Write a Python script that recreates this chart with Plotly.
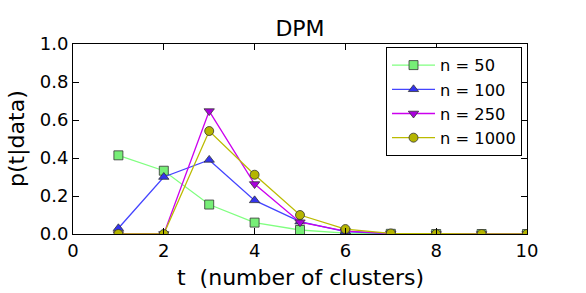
import plotly.graph_objects as go

t = [1, 2, 3, 4, 5, 6, 7, 8, 9, 10]
p_50 = [0.414, 0.333, 0.155, 0.060, 0.021, 0.005, 0.001, 0.0, 0.0, 0.0]
p_100 = [0.030, 0.300, 0.390, 0.177, 0.065, 0.012, 0.002, 0.0, 0.0, 0.0]
p_250 = [0.0, 0.0, 0.647, 0.263, 0.062, 0.015, 0.003, 0.0, 0.0, 0.0]
p_1000 = [0.0, 0.0, 0.542, 0.312, 0.100, 0.026, 0.003, 0.0, 0.0, 0.0]

series = [
    ("n = 50", p_50, "#80ff80", "#77ee77", "square"),
    ("n = 100", p_100, "#4444ff", "#3333ee", "triangle-up"),
    ("n = 250", p_250, "#cc00ee", "#aa00dd", "triangle-down"),
    ("n = 1000", p_1000, "#bbbb00", "#b5b500", "circle"),
]

fig = go.Figure()
for name, vals, lc, mc, sym in series:
    fig.add_trace(go.Scatter(
        x=t, y=vals, mode="lines+markers", name=name,
        line=dict(color=lc, width=1.3),
        marker=dict(symbol=sym, size=9, color=mc, line=dict(color="#333333", width=0.8)),
    ))

axis_common = dict(
    showline=True, linecolor="black", linewidth=1, mirror="ticks",
    ticks="inside", ticklen=6, tickcolor="black", showgrid=False, zeroline=False,
    tickfont=dict(size=18, color="black"), automargin=False,
)
L, R, T, B = 73, 59, 44, 59
W, H = 586, 293
fig.update_layout(
    width=W, height=H,
    margin=dict(l=L, r=R, t=T, b=B, autoexpand=False),
    paper_bgcolor="white", plot_bgcolor="white",
    font=dict(family="DejaVu Sans", color="black"),
    title=dict(text="DPM", x=(L + W - R) / 2 / W, xanchor="center", y=1 - 28 / H, yanchor="middle",
               font=dict(size=22)),
    showlegend=True,
    legend=dict(x=(386 - L) / (W - L - R), y=(H - B - 47) / (H - T - B), xanchor="left", yanchor="top",
                bordercolor="black", borderwidth=1, bgcolor="white", itemwidth=43,
                font=dict(size=16.3), tracegroupgap=0),
    annotations=[
        dict(text="t  (number of clusters)", xref="paper", yref="paper", x=0.5, y=0,
             xanchor="center", yanchor="middle", yshift=-(277 - (H - B)), showarrow=False,
             font=dict(size=22)),
        dict(text="p(t|data)", xref="paper", yref="paper", x=0, y=0.5, textangle=-90,
             xanchor="center", yanchor="middle", xshift=-(L - 17), showarrow=False,
             font=dict(size=22)),
    ],
)
fig.update_xaxes(range=[0, 10], dtick=2, tick0=0, **axis_common)
fig.update_yaxes(range=[0, 1.0], dtick=0.2, tick0=0, tickformat=".1f", **axis_common)

fig.write_html("out.html", config={"displayModeBar": False},
               post_script="document.body.style.margin='0';document.body.style.overflow='hidden';")
